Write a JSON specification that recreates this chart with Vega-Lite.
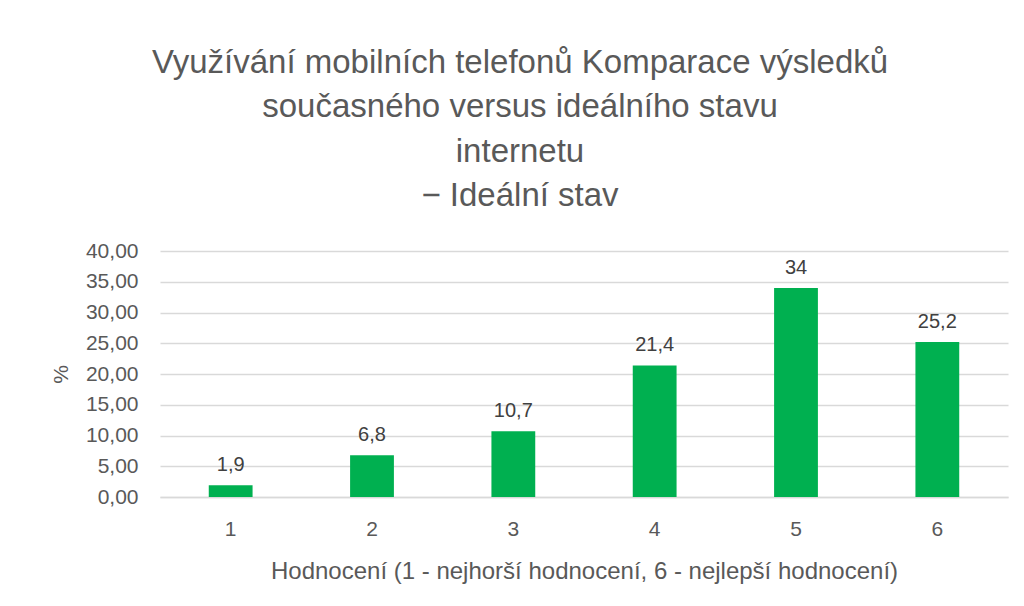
{
  "$schema": "https://vega.github.io/schema/vega-lite/v6.json",
  "width": 848,
  "height": 246,
  "autosize": {"type": "none"},
  "padding": {"left": 160, "top": 251, "right": 16, "bottom": 109},
  "background": "white",
  "config": {
    "locale": {"number": {"decimal": ",", "thousands": " ", "grouping": [3], "currency": ["", ""]}},
    "view": {"stroke": null},
    "font": "Liberation Sans"
  },
  "title": {
    "text": ["Využívání mobilních telefonů Komparace výsledků", "současného versus ideálního stavu", "internetu", "− Ideální stav"],
    "fontSize": 33,
    "fontWeight": "normal",
    "color": "#595959",
    "lineHeight": 44.5,
    "anchor": "middle",
    "dx": -64,
    "offset": 27
  },
  "data": {
    "values": [
      {"hodnoceni": "1", "procenta": 1.9},
      {"hodnoceni": "2", "procenta": 6.8},
      {"hodnoceni": "3", "procenta": 10.7},
      {"hodnoceni": "4", "procenta": 21.4},
      {"hodnoceni": "5", "procenta": 34},
      {"hodnoceni": "6", "procenta": 25.2}
    ]
  },
  "encoding": {
    "x": {
      "field": "hodnoceni",
      "type": "ordinal",
      "scale": {"paddingInner": 0.69, "paddingOuter": 0.345},
      "axis": {
        "title": "Hodnocení (1 - nejhorší hodnocení, 6 - nejlepší hodnocení)",
        "titleFontSize": 24,
        "titleFontWeight": "normal",
        "titleColor": "#595959",
        "titlePadding": 20,
        "labelAngle": 0,
        "labelFontSize": 21,
        "labelColor": "#595959",
        "labelPadding": 21,
        "ticks": false,
        "domainColor": "#d9d9d9",
        "domainWidth": 1.5
      }
    },
    "y": {
      "field": "procenta",
      "type": "quantitative",
      "scale": {"domain": [0, 40]},
      "axis": {
        "title": "%",
        "titleFontSize": 21,
        "titleFontWeight": "normal",
        "titleColor": "#595959",
        "titlePadding": 14,
        "values": [0, 5, 10, 15, 20, 25, 30, 35, 40],
        "format": ".2f",
        "labelFontSize": 21,
        "labelColor": "#595959",
        "labelPadding": 22,
        "ticks": false,
        "domain": false,
        "gridColor": "#d9d9d9",
        "gridWidth": 1.5
      }
    }
  },
  "layer": [
    {"mark": {"type": "bar", "color": "#00b050"}},
    {
      "mark": {"type": "text", "baseline": "bottom", "dy": -10, "fontSize": 20, "color": "#404040"},
      "encoding": {"text": {"field": "procenta", "type": "quantitative", "format": ".3~g"}}
    }
  ]
}
